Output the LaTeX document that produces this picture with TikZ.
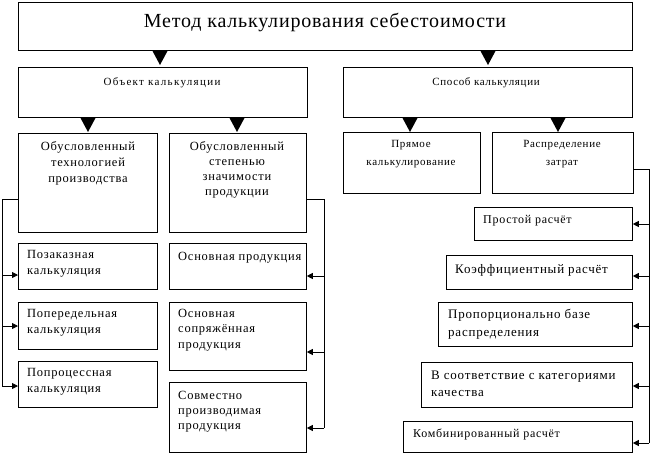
\documentclass[tikz,border=0pt]{standalone}
\usepackage{fontspec}
\setmainfont{Liberation Serif}
\newfontfamily\lsfont[LetterSpace=6]{Liberation Serif}
\newfontfamily\lswide[LetterSpace=12]{Liberation Serif}
\newfontfamily\lstitle[LetterSpace=4]{Liberation Serif}
\usetikzlibrary{arrows.meta}
\newcommand{\bx}[5]{\node[box,minimum width={#4-#2},minimum height={#5-#3}] (#1) at (#2,#3) {};}
\newcommand{\tri}[2]{\fill ({#1-7.5},#2) -- ({#1+7.5},#2) -- (#1,{#2+14}) -- cycle;}
\begin{document}
\begin{tikzpicture}[x=1pt,y=-1pt,
  box/.style={draw,line width=0.8pt,inner sep=0pt,anchor=north west},
  txt/.style={inner sep=0pt,align=left,anchor=base west,font=\lsfont\fontsize{12.5}{16.5}\selectfont},
  ctxt/.style={inner sep=0pt,align=center,anchor=base,font=\lsfont\fontsize{12.5}{16}\selectfont},
  stxt/.style={inner sep=0pt,align=center,anchor=base,font=\lsfont\fontsize{11}{18}\selectfont},
  conn/.style={line width=0.8pt},
  arr/.style={line width=0.8pt,-{Triangle[length=6pt,width=6pt]}}]
\useasboundingbox (0,0) rectangle (650,453);
% boxes
\bx{title}{18}{2}{632}{50}
\bx{obj}{18}{67}{307}{117}
\bx{spos}{343}{67}{632}{117}
\bx{tech}{18}{133}{157}{232}
\bx{signif}{169}{133}{306}{232}
\bx{poz}{18}{243}{157}{289}
\bx{pered}{18}{302}{157}{349}
\bx{proc}{18}{361}{157}{407}
\bx{osn}{169}{243}{306}{289}
\bx{sopr}{169}{302}{306}{370}
\bx{sovm}{169}{382}{306}{452}
\bx{pryam}{343}{132}{480}{193}
\bx{raspr}{492}{132}{633}{193}
\bx{prost}{474}{207}{632}{240}
\bx{koef}{446}{255}{632}{289}
\bx{prop}{438}{302}{632}{346}
\bx{kach}{421}{362}{632}{407}
\bx{komb}{403}{421}{632}{452}
% texts (multi-line nodes: base = last line)
\node[inner sep=0pt,anchor=base,font=\lstitle\fontsize{20}{24}\selectfont] (ttitle) at (325,27) {Метод калькулирования себестоимости};
\node[inner sep=0pt,anchor=base,font=\lswide\fontsize{11}{14}\selectfont] (tobj) at (162,85) {Объект калькуляции};
\node[inner sep=0pt,anchor=base,font=\lsfont\fontsize{11}{14}\selectfont] (tspos) at (486,85) {Способ калькуляции};
\node[ctxt] (ttech) at (88,182) {Обусловленный\\технологией\\производства};
\node[ctxt,font=\lsfont\fontsize{12.5}{15}\selectfont] (tsignif) at (237,195) {Обусловленный\\степенью\\значимости\\продукции};
\node[stxt] (tpryam) at (411,165) {Прямое\\калькулирование};
\node[stxt] (traspr) at (562,165) {Распределение\\затрат};
\node[txt] (tpoz) at (27,274.5) {Позаказная\\калькуляция};
\node[txt] (tpered) at (27,333.5) {Попередельная\\калькуляция};
\node[txt] (tproc) at (27,392.5) {Попроцессная\\калькуляция};
\node[txt] (tosn) at (178,260) {Основная продукция};
\node[txt,font=\lsfont\fontsize{12.5}{15.5}\selectfont] (tsopr) at (178,348) {Основная\\сопряжённая\\продукция};
\node[txt,font=\lsfont\fontsize{12.5}{15}\selectfont] (tsovm) at (178,429) {Совместно\\производимая\\продукция};
\node[txt,font=\lsfont\fontsize{12}{16}\selectfont] (tprost) at (483,223) {Простой расчёт};
\node[txt,font=\lsfont\fontsize{13}{17}\selectfont] (tkoef) at (455,273) {Коэффициентный расчёт};
\node[txt,font=\lsfont\fontsize{13}{18}\selectfont] (tprop) at (448,336) {Пропорционально базе\\распределения};
\node[txt,font=\lsfont\fontsize{13}{17}\selectfont] (tkach) at (431,396) {В соответствие с категориями\\качества};
\node[txt,font=\lsfont\fontsize{12}{16}\selectfont] (tkomb) at (413,437) {Комбинированный расчёт};
% triangles
\tri{160}{51}
\tri{488}{51}
\tri{88}{118}
\tri{237}{118}
\tri{410}{118}
\tri{558}{118}
% connectors
\coordinate (lbus) at (2,0);
\coordinate (mbus) at (324,0);
\coordinate (rbus) at (649,0);
\draw[conn] (tech.west |- 0,199) -- (lbus |- 0,199) -- (lbus |- 0,386);
\draw[arr] (lbus |- 0,275) -- (poz.west |- 0,275);
\draw[arr] (lbus |- 0,326) -- (pered.west |- 0,326);
\draw[arr] (lbus |- 0,386) -- (proc.west |- 0,386);
\draw[conn] (signif.east |- 0,199) -- (mbus |- 0,199) -- (mbus |- 0,428);
\draw[arr] (mbus |- 0,276) -- (osn.east |- 0,276);
\draw[arr] (mbus |- 0,352) -- (sopr.east |- 0,352);
\draw[arr] (mbus |- 0,428) -- (sovm.east |- 0,428);
\draw[conn] (raspr.east |- 0,169) -- (rbus |- 0,169) -- (rbus |- 0,443);
\draw[arr] (rbus |- 0,224) -- (prost.east |- 0,224);
\draw[arr] (rbus |- 0,276) -- (koef.east |- 0,276);
\draw[arr] (rbus |- 0,326) -- (prop.east |- 0,326);
\draw[arr] (rbus |- 0,386) -- (kach.east |- 0,386);
\draw[arr] (rbus |- 0,443) -- (komb.east |- 0,443);
\end{tikzpicture}
\end{document}
